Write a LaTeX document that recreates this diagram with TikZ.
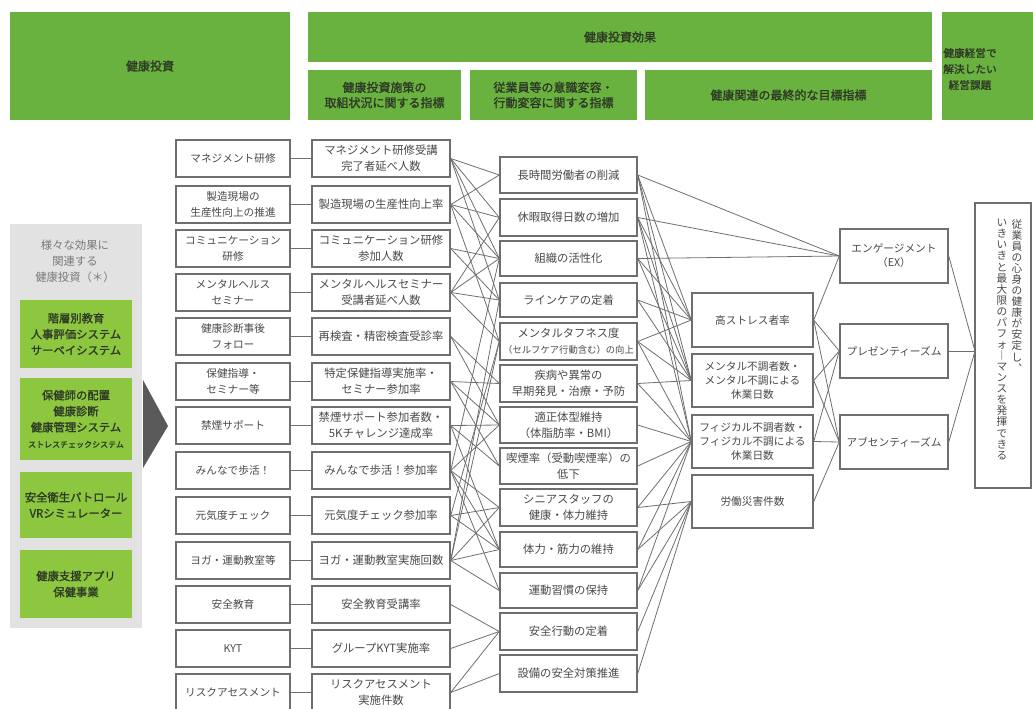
\documentclass[tikz,border=0pt]{standalone}
\usepackage{fontspec}
\setmainfont{Noto Sans CJK JP}
\newfontfamily\hdfont{Noto Sans CJK JP}[FakeBold=1.5]
\definecolor{hdgreen}{HTML}{6AB23F}
\definecolor{lgreen}{HTML}{8DC63F}
\definecolor{pgray}{HTML}{E2E2E2}
\definecolor{bline}{HTML}{6E6E6E}
\definecolor{txt}{HTML}{4A4A4A}
\definecolor{hdtxt}{HTML}{2E3A25}
\definecolor{tgray}{HTML}{7A7A7A}
\definecolor{trigray}{HTML}{5A5A5A}
\pgfdeclarelayer{bg}
\pgfsetlayers{bg,main}
\tikzset{
 box/.style={draw=bline, line width=1.1pt, fill=white, inner sep=0pt, align=center, text=txt, font=\fontsize{8.5}{12}\selectfont},
 abox/.style={box, font=\fontsize{8}{12}\selectfont},
 sbox/.style={box, font=\fontsize{8}{10.5}\selectfont},
 hd/.style={fill=hdgreen, inner sep=0pt, align=center, text=hdtxt, font=\hdfont\fontsize{9}{11.5}\selectfont},
 hdtext/.style={inner sep=0pt, align=center, text=hdtxt, font=\hdfont\fontsize{8}{12}\selectfont},
 gb/.style={fill=lgreen, inner sep=0pt, align=center, text=hdtxt, font=\hdfont\fontsize{8.5}{12}\selectfont},
 panel/.style={fill=pgray, inner sep=0pt},
 ptext/.style={inner sep=0pt, align=center, text=tgray, font=\fontsize{8.5}{12}\selectfont},
 vtext/.style={inner sep=0pt, align=center, text=txt, font=\fontsize{8}{8.3}\selectfont},
 ln/.style={draw=bline, line width=0.6pt},
}
\newcommand\bx[7][box]{\node[#1, minimum width={(#5-#3)*0.75pt}, minimum height={(#6-#4)*0.75pt}] (#2) at ({(#3+#5)/2},{(#4+#6)/2}) {#7};}
\begin{document}
\begin{tikzpicture}[x=0.75pt,y=-0.75pt]
\useasboundingbox (0,0) rectangle (1033,708);
\clip (0,0) rectangle (1033,708);
% header
\bx[hd]{h1}{10}{12}{290}{120}{健康投資}
\bx[hd]{h2}{308}{12}{932}{62}{健康投資効果}
\bx[hd]{h3}{308}{70}{461}{120}{健康投資施策の\\取組状況に関する指標}
\bx[hd]{h4}{470}{70}{637}{120}{従業員等の意識変容・\\行動変容に関する指標}
\bx[hd]{h5}{645}{70}{932}{120}{健康関連の最終的な目標指標}
\bx[hd]{h6}{942}{12}{1045}{120}{}
\node[hdtext] (h6t) at (970,69) {健康経営で\\解決したい\\経営課題};
% left panel
\bx[panel]{lp}{10}{224}{142}{628}{}
\node[ptext] (lpt) at (75,261) {様々な効果に\\関連する\\健康投資（＊）};
\bx[gb]{g1}{20}{300}{132}{368}{階層別教育\\人事評価システム\\サーベイシステム}
\bx[gb]{g2}{20}{378}{132}{460}{保健師の配置\\健康診断\\健康管理システム\\{\fontsize{6}{8}\selectfont ストレスチェックシステム}}
\bx[gb]{g3}{20}{472}{132}{538}{安全衛生パトロール\\VRシミュレーター}
\bx[gb]{g4}{20}{550}{132}{618}{健康支援アプリ\\保健事業}
\fill[trigray] (143,380) -- (168,426) -- (143,468) -- cycle;
% column 1
\bx[abox]{a1}{176}{140}{290}{177}{マネジメント研修}
\bx[abox]{a2}{176}{186}{290}{223}{製造現場の\\生産性向上の推進}
\bx[abox]{a3}{176}{230}{290}{267}{コミュニケーション\\研修}
\bx[abox]{a4}{176}{274}{290}{311}{メンタルヘルス\\セミナー}
\bx[abox]{a5}{176}{318}{290}{355}{健康診断事後\\フォロー}
\bx[abox]{a6}{176}{363}{290}{400}{保健指導・\\セミナー等}
\bx[abox]{a7}{176}{407}{290}{444}{禁煙サポート}
\bx[abox]{a8}{176}{452}{290}{489}{みんなで歩活！}
\bx[abox]{a9}{176}{497}{290}{534}{元気度チェック}
\bx[abox]{a10}{176}{542}{290}{579}{ヨガ・運動教室等}
\bx[abox]{a11}{176}{586}{290}{623}{安全教育}
\bx[abox]{a12}{176}{630}{290}{667}{KYT}
\bx[abox]{a13}{176}{674}{290}{711}{リスクアセスメント}
% column 2
\bx{r1}{312}{140}{450}{177}{マネジメント研修受講\\完了者延べ人数}
\bx{r2}{312}{186}{450}{223}{製造現場の生産性向上率}
\bx{r3}{312}{230}{450}{267}{コミュニケーション研修\\参加人数}
\bx{r4}{312}{274}{450}{311}{メンタルヘルスセミナー\\受講者延べ人数}
\bx{r5}{312}{318}{450}{355}{再検査・精密検査受診率}
\bx{r6}{312}{363}{450}{400}{特定保健指導実施率・\\セミナー参加率}
\bx{r7}{312}{407}{450}{444}{禁煙サポート参加者数・\\5Kチャレンジ達成率}
\bx{r8}{312}{452}{450}{489}{みんなで歩活！参加率}
\bx{r9}{312}{497}{450}{534}{元気度チェック参加率}
\bx{r10}{312}{542}{450}{579}{ヨガ・運動教室実施回数}
\bx{r11}{312}{586}{450}{623}{安全教育受講率}
\bx{r12}{312}{630}{450}{667}{グループKYT実施率}
\bx{r13}{312}{674}{450}{711}{リスクアセスメント\\実施件数}
% column 3
\bx{c1}{500}{157}{637}{193}{長時間労働者の削減}
\bx{c2}{500}{199}{637}{236}{休暇取得日数の増加}
\bx{c3}{500}{241}{637}{276}{組織の活性化}
\bx{c4}{500}{283}{637}{317}{ラインケアの定着}
\bx{c5}{500}{323}{637}{360}{メンタルタフネス度\\{\fontsize{7}{12}\selectfont （セルフケア行動含む）の向上}}
\bx{c6}{500}{365}{637}{402}{疾病や異常の\\早期発見・治療・予防}
\bx{c7}{500}{407}{637}{443}{適正体型維持\\（体脂肪率・BMI）}
\bx{c8}{500}{448}{637}{484}{喫煙率（受動喫煙率）の\\低下}
\bx{c9}{500}{489}{637}{526}{シニアスタッフの\\健康・体力維持}
\bx{c10}{500}{532}{637}{567}{体力・筋力の維持}
\bx{c11}{500}{573}{637}{608}{運動習慣の保持}
\bx{c12}{500}{613}{637}{650}{安全行動の定着}
\bx{c13}{500}{655}{637}{692}{設備の安全対策推進}
% column 4
\bx[sbox]{dH}{692}{293}{813}{347}{高ストレス者率}
\bx[sbox]{dM}{692}{354}{813}{407}{メンタル不調者数・\\メンタル不調による\\休業日数}
\bx[sbox]{dF}{692}{415}{813}{468}{フィジカル不調者数・\\フィジカル不調による\\休業日数}
\bx[sbox]{dR}{692}{475}{813}{528}{労働災害件数}
% column 5
\bx[sbox]{eE}{840}{229}{948}{283}{エンゲージメント\\（EX）}
\bx[sbox]{eP}{840}{324}{948}{378}{プレゼンティーズム}
\bx[sbox]{eA}{840}{415}{948}{469}{アブセンティーズム}
% column 6
\bx{f}{975}{203}{1031}{488}{}
\node[vtext, anchor=north] (fR) at (1017,219) {従\\業\\員\\の\\心\\身\\の\\健\\康\\が\\安\\定\\し\\︑};
\node[vtext, anchor=north] (fL) at (1002,219) {い\\き\\い\\き\\と\\最\\大\\限\\の\\パ\\フ\\ォ\\︱\\マ\\ン\\ス\\を\\発\\揮\\で\\き\\る};
\coordinate (fin) at (975,351);
% connectors
\begin{pgfonlayer}{bg}
\foreach \i in {1,...,13} \draw[ln] (a\i.east) -- (r\i.west);
\foreach \a/\b in {1/1,1/2,1/3,1/4,2/1,2/2,2/3,2/5,3/3,3/4,4/2,4/3,4/4,4/5,5/6,5/7,6/6,6/7,6/8,7/7,7/8,7/10,8/3,8/7,8/9,8/10,8/11,9/5,9/9,9/10,10/4,10/5,10/9,10/10,10/11,11/12,12/12,13/12,13/13}
  \draw[ln] (r\a.east) -- (c\b.west);
\foreach \a in {1,2,3} \draw[ln] (c\a.east) -- (eE.west);
\foreach \a/\b in {1/H,1/M,1/F,2/H,2/M,2/F,3/H,3/M,4/H,4/M,5/H,5/M,5/F,6/M,6/F,7/F,8/F,9/F,9/R,10/F,10/R,11/F,11/R,12/R,13/R}
  \draw[ln] (c\a.east) -- (d\b.west);
\foreach \a/\b in {H/E,H/P,H/A,M/P,M/A,F/P,F/A,R/A}
  \draw[ln] (d\a.east) -- (e\b.west);
\foreach \b in {E,P,A} \draw[ln] (e\b.east) -- (fin);
\end{pgfonlayer}
\end{tikzpicture}
\end{document}
